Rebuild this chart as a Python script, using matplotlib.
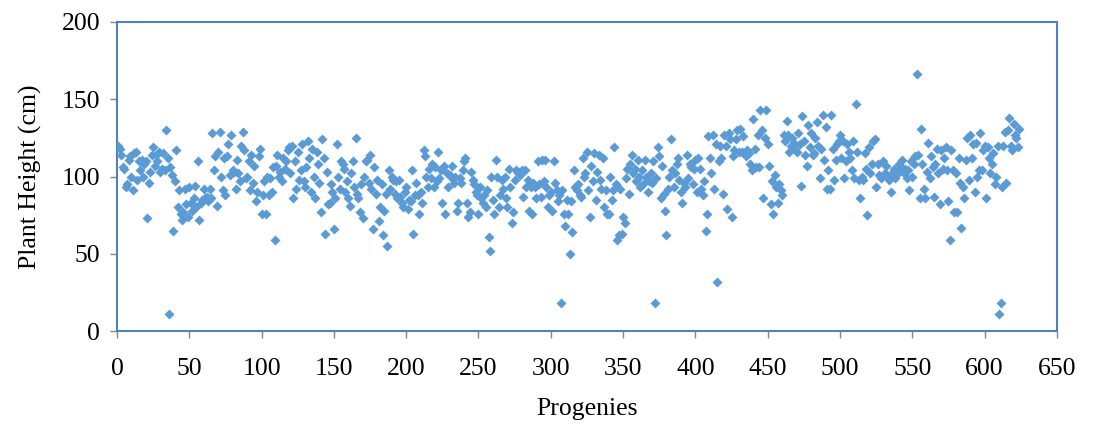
import numpy as np
import matplotlib.pyplot as plt

# plant height (cm) per progeny
height = [
    # 1-50
    120, 118, 114, 106, 105, 93, 95, 111, 113, 100, 91, 115, 116, 98, 110, 104, 111, 100, 108, 110,
    73, 96, 103, 114, 119, 107, 114, 110, 116, 103, 105, 115, 104, 130, 112, 11, 106, 101, 65, 97,
    117, 80, 91, 76, 72, 77, 92, 82, 74, 93,
    # 51-102
    83, 78, 86, 94, 80, 110, 72, 83, 85, 92, 86, 87, 84, 92, 86, 128, 104, 113, 81, 116,
    129, 100, 91, 112, 88, 113, 121, 101, 127, 104, 103, 92, 111, 102, 97, 120, 129, 117, 99, 100,
    110, 91, 114, 96, 107, 84, 90, 113, 118, 76, 88, 97,
    # 103-155
    76, 100, 88, 99, 90, 106, 59, 107, 114, 100, 103, 97, 112, 105, 110, 117, 119, 102, 120, 86,
    110, 92, 116, 98, 104, 121, 97, 93, 106, 123, 112, 90, 118, 100, 86, 116, 108, 96, 77, 124,
    112, 63, 103, 82, 83, 95, 90, 66, 86, 121, 100, 92, 110,
    # 156-207
    108, 105, 90, 97, 86, 81, 102, 110, 93, 125, 89, 86, 77, 95, 73, 100, 110, 111, 96, 114,
    92, 66, 106, 89, 98, 71, 80, 95, 62, 78, 89, 55, 104, 92, 100, 98, 89, 97, 86, 98,
    87, 83, 80, 90, 93, 79, 85, 84, 104, 63, 88, 96,
    # 208-260
    88, 76, 90, 83, 117, 113, 100, 93, 105, 99, 108, 93, 106, 97, 116, 99, 104, 83, 107, 76,
    102, 93, 101, 100, 107, 96, 100, 78, 83, 99, 96, 104, 110, 112, 83, 74, 77, 103, 98, 95,
    90, 88, 76, 93, 86, 83, 88, 80, 91, 61, 52, 100, 85,
    # 261-313
    76, 111, 100, 80, 88, 98, 92, 100, 86, 80, 105, 93, 70, 77, 98, 104, 102, 103, 101, 104,
    87, 104, 93, 98, 78, 93, 76, 96, 93, 86, 110, 95, 87, 111, 97, 111, 93, 80, 88, 90,
    78, 110, 96, 91, 84, 88, 18, 91, 76, 68, 85, 76, 50,
    # 314-365
    84, 64, 104, 93, 91, 95, 88, 87, 112, 100, 102, 116, 91, 74, 107, 97, 115, 85, 103, 114,
    98, 92, 112, 80, 91, 76, 76, 100, 85, 91, 119, 95, 59, 62, 92, 63, 74, 70, 99, 105,
    89, 108, 114, 102, 105, 97, 111, 100, 93, 104, 95, 111,
    # 366-417
    100, 90, 97, 102, 96, 110, 18, 99, 119, 113, 86, 107, 89, 78, 62, 92, 100, 124, 104, 93,
    102, 108, 112, 98, 90, 83, 96, 93, 114, 99, 108, 106, 95, 105, 111, 90, 112, 105, 92, 88,
    97, 65, 76, 126, 112, 102, 127, 92, 121, 32, 110, 120,
    # 418-470
    112, 89, 127, 120, 79, 128, 124, 74, 113, 117, 124, 130, 116, 131, 116, 126, 116, 113, 117, 115,
    108, 104, 137, 118, 106, 127, 106, 143, 130, 86, 125, 143, 121, 107, 82, 97, 76, 101, 93, 83,
    95, 91, 88, 127, 123, 136, 127, 116, 120, 125, 122, 118, 116,
    # 471-523
    128, 121, 94, 139, 123, 114, 107, 133, 119, 128, 114, 115, 125, 135, 120, 99, 118, 140, 111, 132,
    92, 104, 92, 140, 118, 98, 111, 121, 123, 127, 112, 123, 99, 110, 121, 116, 112, 104, 123, 99,
    147, 116, 98, 86, 100, 98, 115, 105, 75, 119, 102, 108, 123,
    # 524-575
    124, 93, 108, 101, 99, 100, 110, 102, 107, 100, 98, 90, 102, 105, 99, 101, 103, 108, 106, 111,
    102, 105, 99, 104, 91, 110, 100, 108, 113, 166, 114, 86, 131, 108, 92, 86, 103, 122, 99, 113,
    106, 87, 108, 118, 102, 82, 117, 105, 112, 119, 104, 84,
    # 576-624
    59, 117, 104, 77, 102, 77, 112, 96, 67, 93, 86, 111, 125, 98, 127, 112, 121, 90, 122, 100,
    104, 128, 104, 117, 120, 86, 119, 112, 102, 108, 115, 95, 100, 120, 11, 18, 93, 120, 129, 96,
    130, 138, 120, 117, 134, 127, 125, 119, 131,
]
progeny = np.arange(1, len(height) + 1)

x_ticks = list(range(0, 651, 50))
y_ticks = [0, 50, 100, 150, 200]

plt.rcParams['font.family'] = ['Liberation Serif', 'DejaVu Serif']

fig = plt.figure(figsize=(10.93, 4.29), dpi=100)
ax = fig.add_axes([0.107, 0.228, 0.860, 0.721])

ax.scatter(progeny, height, marker='D', s=26, color='#5B9BD5', linewidths=0, zorder=3)

ax.set_xlim(0, 650)
ax.set_ylim(0, 200)
ax.set_xticks(x_ticks)
ax.set_yticks(y_ticks)
ax.tick_params(labelsize=18.5, direction='out', length=5, color='#868686', width=1)
ax.tick_params(axis='x', pad=14)
ax.tick_params(axis='y', pad=7)

for side in ['top', 'right', 'left', 'bottom']:
    ax.spines[side].set_color('#4F81BD')
    ax.spines[side].set_linewidth(1.5)

ax.set_xlabel('Progenies', fontsize=18.5, labelpad=13)
ax.set_ylabel('Plant Height (cm)', fontsize=18.5, labelpad=14)

fig.savefig('out.png', dpi=100)
